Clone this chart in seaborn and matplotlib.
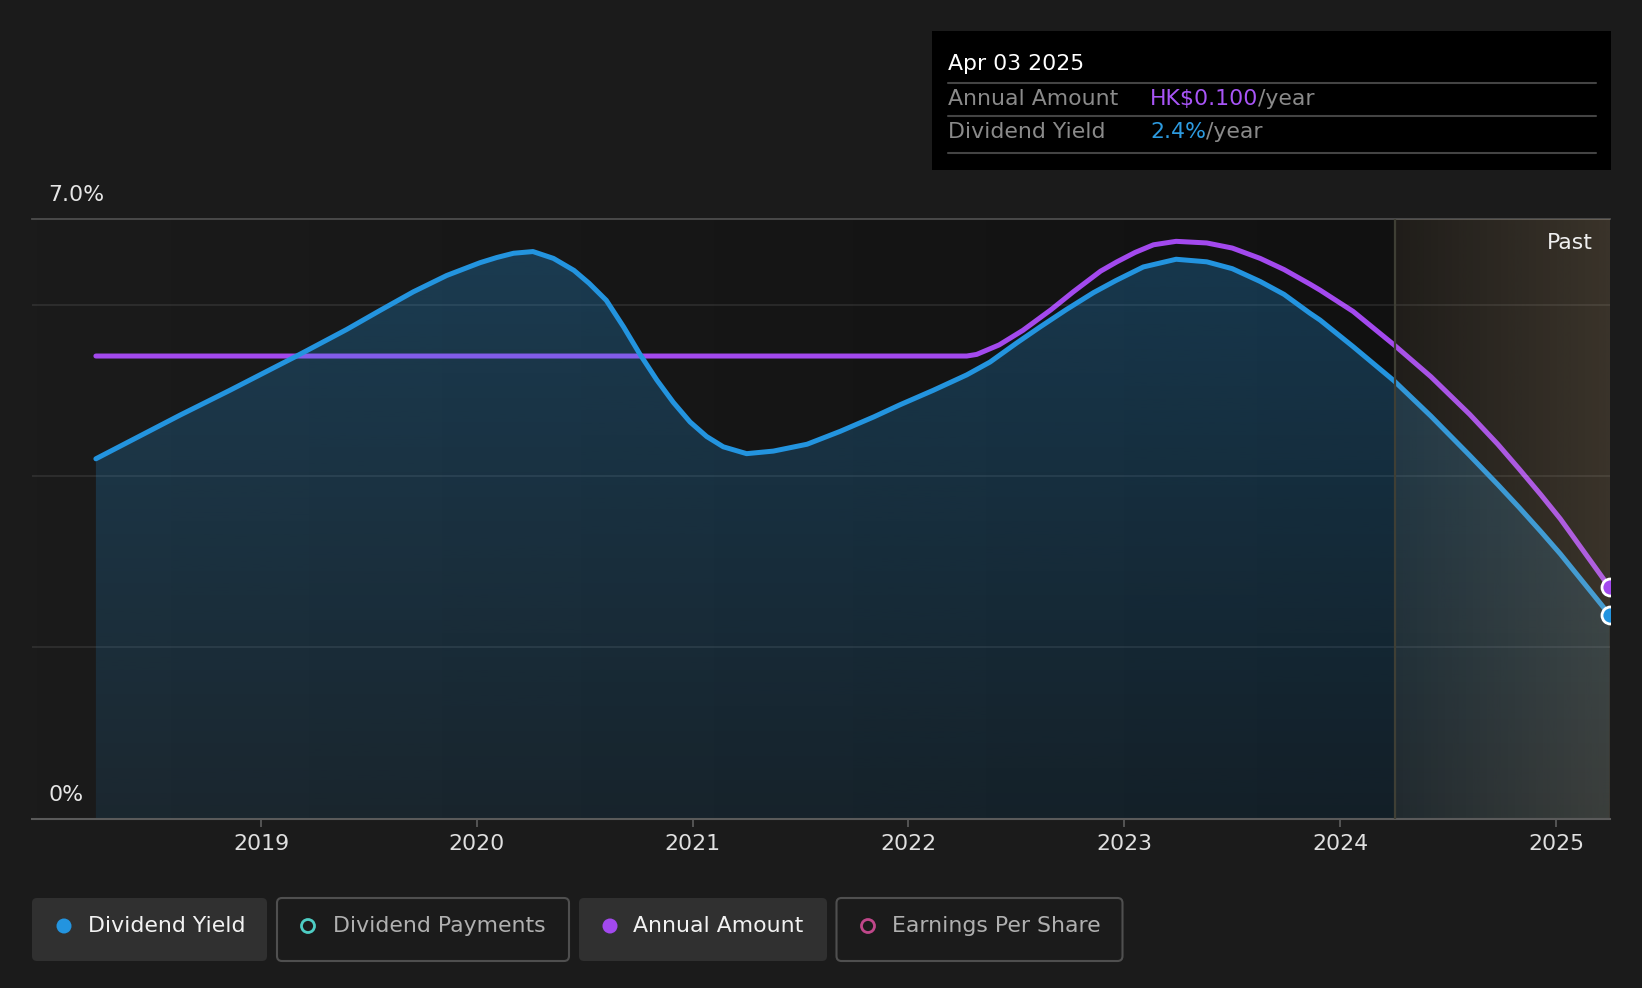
import numpy as np
import matplotlib
matplotlib.use("Agg")
import matplotlib.pyplot as plt
import seaborn as sns
from matplotlib.patches import Polygon, Rectangle, FancyBboxPatch, Circle

# ---------------- data ----------------
yield_years = [2018.235, 2018.625, 2018.856, 2019.165, 2019.397, 2019.55, 2019.706,
               2019.86, 2020.015, 2020.092, 2020.17, 2020.26, 2020.355, 2020.45,
               2020.52, 2020.60, 2020.68, 2020.756, 2020.834, 2020.91, 2020.988,
               2021.065, 2021.142, 2021.25, 2021.374, 2021.53, 2021.683, 2021.84,
               2021.96, 2022.115, 2022.27, 2022.378, 2022.50, 2022.61, 2022.73,
               2022.857, 2022.96, 2023.088, 2023.24, 2023.382, 2023.50, 2023.63,
               2023.74, 2023.86, 2023.907, 2024.06, 2024.25, 2024.42, 2024.60,
               2024.73, 2024.83, 2024.93, 2025.02, 2025.248]
yield_pct = [4.20, 4.71, 5.00, 5.40, 5.71, 5.93, 6.15,
             6.34, 6.49, 6.55, 6.60, 6.62, 6.54, 6.40,
             6.25, 6.05, 5.74, 5.42, 5.12, 4.86, 4.63,
             4.46, 4.34, 4.26, 4.29, 4.37, 4.52, 4.69,
             4.83, 5.00, 5.18, 5.33, 5.55, 5.74, 5.94,
             6.14, 6.28, 6.44, 6.53, 6.50, 6.42, 6.27,
             6.12, 5.90, 5.82, 5.51, 5.11, 4.70, 4.24,
             3.90, 3.63, 3.35, 3.09, 2.38]

amount_years = [2018.235, 2022.27, 2022.316, 2022.42, 2022.53, 2022.66, 2022.764,
                2022.89, 2022.965, 2023.05, 2023.135, 2023.24, 2023.382, 2023.50,
                2023.63, 2023.74, 2023.86, 2023.907, 2024.06, 2024.25, 2024.42,
                2024.60, 2024.73, 2024.83, 2024.93, 2025.02, 2025.248]
amount_hkd = [0.2000, 0.2000, 0.2007, 0.2048, 0.2111, 0.2200, 0.2278,
              0.2367, 0.2407, 0.2448, 0.2481, 0.2496, 0.2489, 0.2467,
              0.2422, 0.2374, 0.2311, 0.2285, 0.2193, 0.2048, 0.1911,
              0.1748, 0.1619, 0.1511, 0.1400, 0.1296, 0.1000]

year_ticks = [2019, 2020, 2021, 2022, 2023, 2024, 2025]
year_labels = ["2019", "2020", "2021", "2022", "2023", "2024", "2025"]
past_start = 2024.255
x_start, x_end = 2017.939, 2025.248
y_max_pct = 7.0
amount_max = 7.0 / 27.0

legend_items = ["Dividend Yield", "Dividend Payments", "Annual Amount", "Earnings Per Share"]

# ---------------- style ----------------
sns.set_theme(style="dark")
plt.rcParams["font.family"] = ["DejaVu Sans"]

BG = "#1b1b1b"
BLUE = "#2394df"
PURPLE = "#a349ee"
TEAL = "#4ecdc4"
PINK = "#c0478a"
W, H = 1642, 988
FS = 15.8

fig = plt.figure(figsize=(16.42, 9.88), dpi=100, facecolor=BG)
L, R = 32 / W, 1609.5 / W
B, T = (H - 818.5) / H, (H - 219) / H
pos = [L, B, R - L, T - B]

# bottom axes: backgrounds + annual amount (HK$)
ax2 = fig.add_axes(pos)
ax2.set_zorder(1)
ax2.set_axis_off()
# middle axes: dividend yield (%)
ax = fig.add_axes(pos, sharex=ax2)
ax.set_zorder(2)
ax.patch.set_visible(False)
# top axes: annual amount end marker
ax3 = fig.add_axes(pos, sharex=ax2)
ax3.set_zorder(3)
ax3.set_axis_off()

# plot background gradient (left lighter -> right darker)
n = 256
tt = np.linspace(0, 1, n)[None, :, None]
c0 = np.array([27, 27, 27]) / 255
c1 = np.array([17, 17, 17]) / 255
bg = c0 * (1 - tt) + c1 * tt
ax2.imshow(bg, extent=[x_start, past_start, 0, amount_max], aspect="auto", zorder=0)
ax2.imshow(np.full((1, 1, 3), 17 / 255), extent=[past_start, x_end, 0, amount_max],
           aspect="auto", zorder=0)

sns.lineplot(x=amount_years, y=amount_hkd, ax=ax2, color=PURPLE, lw=3.6, zorder=2)
ax2.set_xlim(x_start, x_end)
ax2.set_ylim(0, amount_max)

# gridlines
for g in [2, 4, 6]:
    ax.axhline(g, color="white", alpha=0.09, lw=1.3, zorder=1)

# gradient fill under dividend yield
verts = list(zip(yield_years, yield_pct)) + [(yield_years[-1], 0), (yield_years[0], 0)]
poly = Polygon(verts, closed=True, facecolor="none", edgecolor="none", transform=ax.transData)
ax.add_patch(poly)
grad = np.zeros((256, 1, 4))
grad[:, 0, :3] = np.array([35, 148, 223]) / 255
grad[:, 0, 3] = np.linspace(0.30, 0.11, 256)
im = ax.imshow(grad, extent=[x_start, x_end, 0, y_max_pct], origin="upper",
               aspect="auto", zorder=3)
im.set_clip_path(poly)

sns.lineplot(x=yield_years, y=yield_pct, ax=ax, color=BLUE, lw=3.6, zorder=4)

# warm translucent "Past" overlay (above the lines)
ov_img = np.zeros((1, n, 4))
ov_img[0, :, :3] = np.array([235, 200, 150]) / 255
ov_img[0, :, 3] = np.linspace(0.07, 0.19, n)
ax.imshow(ov_img, extent=[past_start, x_end, 0, y_max_pct], aspect="auto", zorder=5)
ax.axvline(past_start, color="#3f3f35", lw=1.6, zorder=5)

sns.scatterplot(x=[yield_years[-1]], y=[yield_pct[-1]], ax=ax, s=150, color=BLUE,
                edgecolor="white", linewidth=2, zorder=6, clip_on=True)
sns.scatterplot(x=[amount_years[-1]], y=[amount_hkd[-1]], ax=ax3, s=150, color=PURPLE,
                edgecolor="white", linewidth=2, zorder=6, clip_on=True)
ax3.set_xlim(x_start, x_end)
ax3.set_ylim(0, amount_max)

ax.set_xlim(x_start, x_end)
ax.set_ylim(0, y_max_pct)
ax.set_xlabel("")
ax.set_ylabel("")
ax.set_yticks([])
ax.set_xticks(year_ticks)
ax.set_xticklabels(year_labels)
ax.tick_params(axis="x", length=6, width=1.3, color="#5a5a5a", labelcolor="#e0e0e0",
               labelsize=FS, pad=5.5, bottom=True)
for s in ["left", "right"]:
    ax.spines[s].set_visible(False)
ax.spines["top"].set_color("#4d4d4d")
ax.spines["top"].set_linewidth(1.3)
ax.spines["bottom"].set_color("#5a5a5a")
ax.spines["bottom"].set_linewidth(1.5)
ax.grid(False)

# ---------------- overlay (pixel coordinates) ----------------
ov = fig.add_axes([0, 0, 1, 1])
ov.set_zorder(10)
ov.patch.set_visible(False)
ov.set_xlim(0, W)
ov.set_ylim(H, 0)
ov.set_axis_off()

ov.text(48, 195, "7.0%", color="#e6e6e6", fontsize=FS, va="center", ha="left")
ov.text(48, 795, "0%", color="#e6e6e6", fontsize=FS, va="center", ha="left")
ov.text(1593, 243, "Past", color="#f0f0f0", fontsize=FS, va="center", ha="right")

# tooltip
ov.add_patch(Rectangle((932, 31), 679, 139, facecolor="black", edgecolor="none"))
ov.text(948, 63.5, "Apr 03 2025", color="white", fontsize=FS, va="center", ha="left")
for yy in [82.7, 116.2, 152.9]:
    ov.plot([948, 1596], [yy, yy], color="#444444", lw=1.5)
GREY = "#8a8a8a"
ov.text(948, 99, "Annual Amount", color=GREY, fontsize=FS, va="center", ha="left")
t1 = ov.text(1150, 99, "HK$0.100", color="#a855f7", fontsize=FS, va="center", ha="left")
ov.annotate("/year", xy=(1, 0), xycoords=t1, va="bottom", ha="left", color=GREY, fontsize=FS)
ov.text(948, 132.5, "Dividend Yield", color=GREY, fontsize=FS, va="center", ha="left")
t2 = ov.text(1150, 132.5, "2.4%", color="#2d9be0", fontsize=FS, va="center", ha="left")
ov.annotate("/year", xy=(1, 0), xycoords=t2, va="bottom", ha="left", color=GREY, fontsize=FS)

# legend
boxes = [(32, 267), (277, 569), (579, 827), (836.5, 1122.5)]
filled = [True, False, True, False]
marker_x = [64, 308, 610, 868]
text_x = [88, 333, 633, 892]
colors = [BLUE, TEAL, PURPLE, PINK]
ly0, ly1 = 898, 961
cy = 926
for (x0, x1), f, mx, tx, c, lab in zip(boxes, filled, marker_x, text_x, colors, legend_items):
    if f:
        ov.add_patch(FancyBboxPatch((x0 + 5, ly0 + 5), x1 - x0 - 10, ly1 - ly0 - 10,
                                    boxstyle="round,pad=5", facecolor="#303030",
                                    edgecolor="none"))
        ov.add_patch(Circle((mx, cy), 7.5, facecolor=c, edgecolor="none"))
        ov.text(tx, cy, lab, color="#f2f2f2", fontsize=FS, va="center", ha="left")
    else:
        ov.add_patch(FancyBboxPatch((x0 + 5, ly0 + 5), x1 - x0 - 10, ly1 - ly0 - 10,
                                    boxstyle="round,pad=5", facecolor=BG,
                                    edgecolor="#4f4f4f", lw=1.5))
        ov.add_patch(Circle((mx, cy), 6.5, facecolor="none", edgecolor=c, lw=2))
        ov.text(tx, cy, lab, color="#b0b0b0", fontsize=FS, va="center", ha="left")

fig.savefig("out.png", dpi=100, facecolor=BG)
